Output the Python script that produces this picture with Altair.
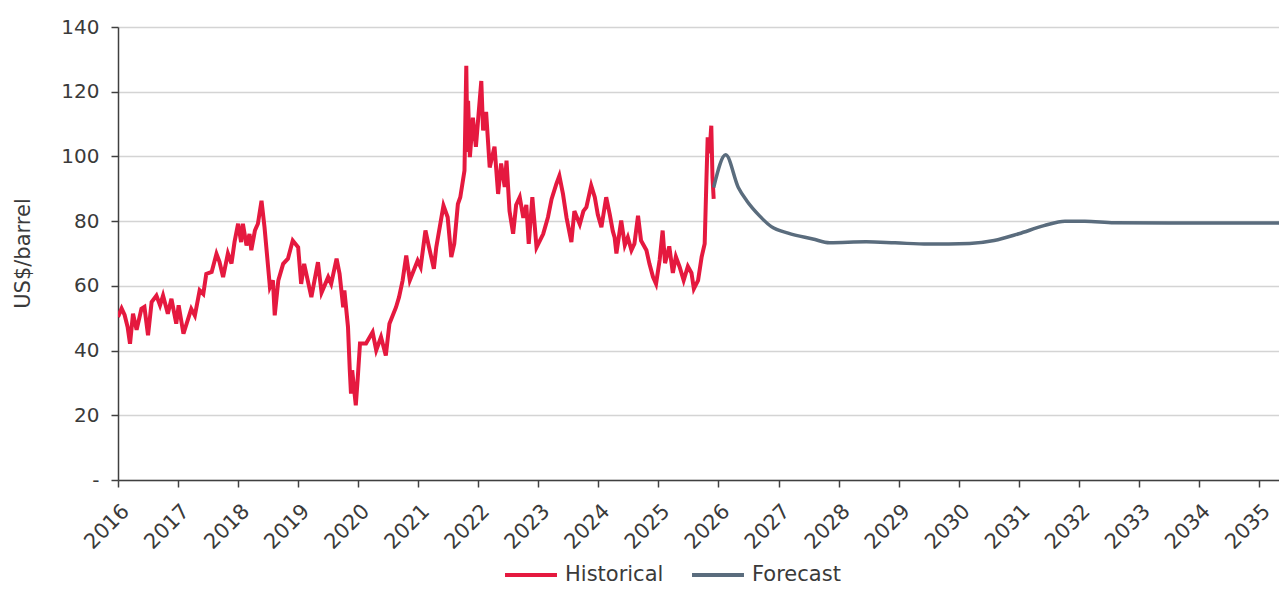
import altair as alt
import pandas as pd

# Historical price series (decimal year, US$/barrel)
hist_t = [2016.00, 2016.06, 2016.11, 2016.16, 2016.20, 2016.25, 2016.31, 2016.39, 2016.44, 2016.50,
          2016.56, 2016.64, 2016.70, 2016.75, 2016.83, 2016.89, 2016.97, 2017.01, 2017.09, 2017.16,
          2017.22, 2017.28, 2017.36, 2017.42, 2017.47, 2017.56, 2017.64, 2017.69, 2017.75, 2017.83,
          2017.89, 2017.94, 2018.00, 2018.05, 2018.08, 2018.14, 2018.19, 2018.22, 2018.28, 2018.33,
          2018.39, 2018.44, 2018.50, 2018.53, 2018.58, 2018.61, 2018.67, 2018.75, 2018.83, 2018.91,
          2019.00, 2019.05, 2019.10, 2019.22, 2019.33, 2019.39, 2019.50, 2019.55, 2019.64, 2019.69,
          2019.75, 2019.77, 2019.83, 2019.86, 2019.88, 2019.90, 2019.96, 2019.99, 2020.03, 2020.13,
          2020.24, 2020.30, 2020.38, 2020.46, 2020.52, 2020.63, 2020.68, 2020.74, 2020.80, 2020.86,
          2020.99, 2021.04, 2021.12, 2021.18, 2021.26, 2021.30, 2021.42, 2021.49, 2021.55, 2021.60,
          2021.66, 2021.70, 2021.77, 2021.80, 2021.82, 2021.83, 2021.86, 2021.91, 2021.96, 2022.05,
          2022.08, 2022.13, 2022.19, 2022.27, 2022.33, 2022.38, 2022.44, 2022.47, 2022.52, 2022.58,
          2022.63, 2022.69, 2022.75, 2022.80, 2022.84, 2022.90, 2022.97, 2023.08, 2023.16, 2023.22,
          2023.30, 2023.35, 2023.41, 2023.47, 2023.55, 2023.60, 2023.69, 2023.75, 2023.80, 2023.88,
          2023.94, 2023.99, 2024.05, 2024.13, 2024.19, 2024.24, 2024.27, 2024.30, 2024.38, 2024.44,
          2024.49, 2024.55, 2024.60, 2024.66, 2024.71, 2024.80, 2024.85, 2024.91, 2024.96, 2025.02,
          2025.07, 2025.11, 2025.18, 2025.24, 2025.29, 2025.35, 2025.42, 2025.49, 2025.55, 2025.59,
          2025.66, 2025.72, 2025.77, 2025.80, 2025.82, 2025.85, 2025.88, 2025.90, 2025.92]
hist_v = [50.4, 53.0, 51.0, 47.3, 42.1, 51.4, 46.4, 52.9, 53.5, 44.7,
          55.0, 57.0, 54.0, 57.0, 51.4, 56.0, 48.3, 54.0, 45.2, 49.3,
          52.9, 50.8, 58.6, 57.5, 63.7, 64.3, 69.9, 67.4, 62.7, 70.0,
          66.9, 73.5, 79.2, 73.5, 79.2, 72.5, 76.0, 71.0, 77.1, 79.2,
          86.3, 78.1, 65.8, 59.6, 61.7, 50.9, 61.7, 66.8, 68.4, 74.0,
          71.9, 60.6, 66.8, 56.5, 67.3, 57.9, 62.7, 60.6, 68.4, 63.7,
          53.4, 58.6, 47.3, 33.9, 26.7, 33.9, 23.1, 30.8, 42.2, 42.2,
          45.7, 40.1, 44.2, 38.5, 48.3, 53.4, 56.5, 61.7, 69.4, 61.7,
          67.8, 65.8, 77.1, 71.9, 65.3, 71.9, 84.8, 81.2, 68.9, 73.0,
          85.3, 87.4, 95.6, 128.0, 101.4, 117.2, 99.8, 112.0, 103.0, 123.3,
          108.0, 113.8, 96.6, 103.0, 88.4, 97.8, 90.6, 98.7, 83.1, 76.1,
          85.0, 87.4, 81.0, 85.0, 73.0, 87.4, 71.9, 76.0, 81.2, 86.8,
          91.5, 94.0, 88.4, 81.0, 73.5, 83.1, 79.0, 83.1, 84.3, 91.0,
          87.4, 82.0, 78.1, 87.4, 82.0, 76.9, 75.0, 70.0, 80.2, 72.6,
          75.0, 71.0, 73.0, 81.7, 74.0, 71.0, 66.8, 62.7, 60.6, 68.0,
          77.1, 67.0, 72.2, 64.0, 69.0, 66.0, 61.7, 66.0, 64.0, 59.1,
          61.7, 69.0, 73.0, 93.5, 105.9, 101.0, 109.5, 93.5, 86.9]

# Forecast series
fc_t = [2025.92, 2026.12, 2026.33, 2026.47, 2026.68, 2026.88, 2027.16, 2027.57, 2027.85, 2028.46,
        2028.94, 2029.49, 2030.18, 2030.59, 2031.00, 2031.42, 2031.77, 2032.10, 2032.59, 2033.50,
        2035.34]
fc_v = [90.4, 100.5, 90.4, 86.3, 81.7, 78.3, 76.3, 74.5, 73.3, 73.6,
        73.3, 72.9, 73.1, 74.0, 76.1, 78.6, 80.0, 80.0, 79.5, 79.4,
        79.4]

series_names = ["Historical", "Forecast"]
series_colors = ["#E5193F", "#5A6C7D"]
year_ticks = list(range(2016, 2036))
y_ticks = [0, 20, 40, 60, 80, 100, 120, 140]

hist_df = pd.DataFrame({"t": hist_t, "v": hist_v, "series": series_names[0]})
fc_df = pd.DataFrame({"t": fc_t, "v": fc_v, "series": series_names[1]})

FONT = "DejaVu Sans"
TXT = "#3a3a3a"

x_enc = alt.X("t:Q",
              scale=alt.Scale(domain=[2016, 2035.334], nice=False, zero=False),
              axis=alt.Axis(values=year_ticks, format="d", title=None, labelAngle=-45,
                            labelFontSize=21, labelFont=FONT, labelColor=TXT,
                            labelPadding=13, tickSize=7, tickWidth=1.5, tickColor="#404040",
                            domainColor="#404040", domainWidth=1.5, grid=False,
                            labelOverlap=False, labelFlush=False))
y_enc = alt.Y("v:Q",
              scale=alt.Scale(domain=[0, 140], nice=False),
              axis=alt.Axis(values=y_ticks, title="US$/barrel",
                            labelExpr="datum.value == 0 ? '-' : datum.label",
                            labelFontSize=20, labelFont=FONT, labelColor=TXT, labelPadding=12,
                            tickSize=7, tickWidth=1.5, tickColor="#404040",
                            domainColor="#404040", domainWidth=1.5,
                            gridColor="#d4d4d4", gridWidth=1.6,
                            titleFontSize=21, titleFont=FONT, titleColor=TXT, titleFontWeight="normal",
                            titleX=-95, titleY=226, titleBaseline="middle", titleAngle=270))
c_enc = alt.Color("series:N",
                  scale=alt.Scale(domain=series_names, range=series_colors),
                  legend=alt.Legend(title=None, orient="none", direction="horizontal",
                                    legendX=385, legendY=520,
                                    symbolType="stroke", symbolSize=2700, symbolStrokeWidth=4,
                                    labelFontSize=21, labelFont=FONT, labelColor=TXT,
                                    labelOffset=6, columnPadding=20))

hist = alt.Chart(hist_df).mark_line(strokeWidth=4, interpolate="linear", clip=True).encode(
    x=x_enc, y=y_enc, color=c_enc)
fc = alt.Chart(fc_df).mark_line(strokeWidth=3.5, interpolate="monotone", clip=True).encode(
    x=x_enc, y=y_enc, color=c_enc)

chart = alt.layer(hist, fc).properties(
    width=1161, height=453,
    padding={"left": 110, "top": 19, "right": 0, "bottom": 108},
    autosize=alt.AutoSizeParams(type="none"),
).configure_view(stroke=None)

chart.save("out.html", embed_options={"renderer": "svg", "actions": False})
